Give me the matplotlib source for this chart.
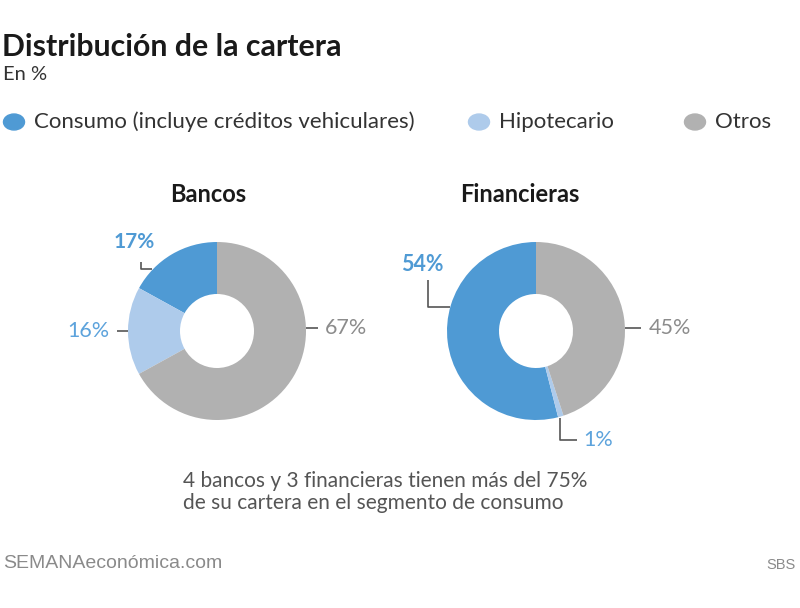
import matplotlib
matplotlib.use("Agg")
import matplotlib.pyplot as plt

# data
groups = ["Bancos", "Financieras"]
categories = ["Consumo (incluye créditos vehiculares)", "Hipotecario", "Otros"]
bancos = [17, 16, 67]
financieras = [54, 1, 45]
colors = ["#4f9ad4", "#aecbeb", "#b1b1b1"]

plt.rcParams["font.family"] = ["Lato", "DejaVu Sans"]

W, H = 800, 608
fig = plt.figure(figsize=(W / 100, H / 100), dpi=100)


def fx(px):
    return px / W


def fy(py):
    return 1 - py / H


fig.text(fx(2), fy(47), "Distribución de la cartera", fontsize=21.8, fontweight="bold",
         color="#1a1a1a", va="center", ha="left")
fig.text(fx(3), fy(75), "En %", fontsize=14.5, color="#333333", va="center", ha="left")

# legend
leg_x = [14, 479, 695]
for x, lab, c in zip(leg_x, categories, colors):
    fig.patches.append(plt.Circle((fx(x), fy(122)), 10.5 / W, color=c,
                                  transform=fig.transFigure, figure=fig))
    fig.text(fx(x + 20), fy(122), lab, fontsize=16, color="#333333", va="center",
             ha="left")

R = 89.0
centers = [(217, 331), (536, 331)]
title_x = [208, 520]
half = 130


def donut(cx, cy, tx, values, title):
    ax = fig.add_axes([fx(cx - half), fy(cy + half), 2 * half / W, 2 * half / H])
    ax.pie(values, colors=colors, startangle=90, counterclock=True, radius=1,
           wedgeprops=dict(width=1 - 37 / R, edgecolor="none"))
    lim = half / R
    ax.set_xlim(-lim, lim)
    ax.set_ylim(-lim, lim)
    ax.set_aspect("equal")
    ax.axis("off")
    fig.text(fx(tx), fy(195), title, fontsize=17, fontweight="bold", color="#1a1a1a",
             ha="center", va="center")
    return ax


line_kw = dict(color="#555555", lw=1.2, solid_capstyle="butt")

ax1 = donut(*centers[0], title_x[0], bancos, groups[0])
ax1.plot([-0.85, -0.85, -0.73], [0.78, 0.70, 0.70], **line_kw)
ax1.text(-0.93, 1.0, f"{bancos[0]}%", color="#4f9ad4", fontsize=15, fontweight="bold",
         ha="center", va="center")
ax1.plot([-1.12, -1.0], [0, 0], **line_kw)
ax1.text(-1.21, 0, f"{bancos[1]}%", color="#5da3dc", fontsize=15.5,
         ha="right", va="center")
ax1.plot([1.0, 1.13], [0.03, 0.03], **line_kw)
ax1.text(1.21, 0.03, f"{bancos[2]}%", color="#8c8c8c", fontsize=15.5,
         ha="left", va="center")

ax2 = donut(*centers[1], title_x[1], financieras, groups[1])
ax2.plot([-1.21, -1.21, -0.97], [0.57, 0.27, 0.27], **line_kw)
ax2.text(-1.28, 0.75, f"{financieras[0]}%", color="#4f9ad4", fontsize=15.5, fontweight="bold",
         ha="center", va="center")
ax2.plot([0.27, 0.27, 0.46], [-0.98, -1.22, -1.22], **line_kw)
ax2.text(0.53, -1.22, f"{financieras[1]}%", color="#5da3dc", fontsize=15.5,
         ha="left", va="center")
ax2.plot([1.0, 1.18], [0.03, 0.03], **line_kw)
ax2.text(1.27, 0.03, f"{financieras[2]}%", color="#8c8c8c", fontsize=15.5,
         ha="left", va="center")

fig.text(fx(183), fy(492), "4 bancos y 3 financieras tienen más del 75%\n"
         "de su cartera en el segmento de consumo", fontsize=15, color="#555555",
         ha="left", va="center", linespacing=1.15)

fig.text(fx(3), fy(564), "SEMANAeconómica.com", fontsize=14,
         family=["Liberation Sans", "DejaVu Sans"],
         color="#8a8a8a", ha="left", va="center")
fig.text(fx(796), fy(565), "SBS", fontsize=10.5,
         family=["Liberation Sans", "DejaVu Sans"],
         color="#8a8a8a", ha="right", va="center")

fig.savefig("out.png", dpi=100)
